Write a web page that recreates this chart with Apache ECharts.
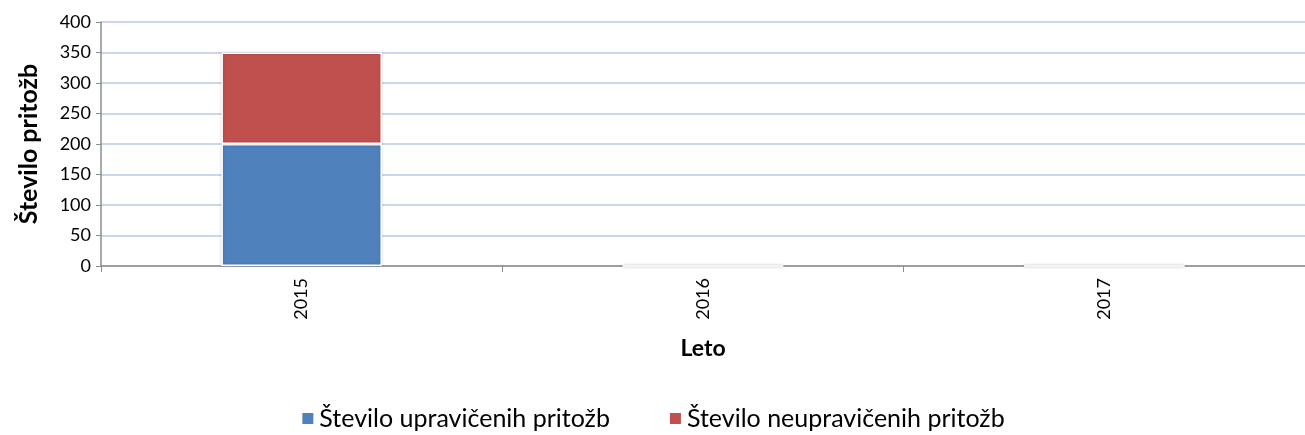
<!DOCTYPE html>
<html>
<head>
<meta charset="utf-8">
<script src="https://cdn.jsdelivr.net/npm/echarts@6/dist/echarts.min.js"></script>
<style>
  html, body { margin: 0; padding: 0; background: #fff; }
  #container { width: 1305px; height: 435px; }
</style>
</head>
<body>
<div id="container"></div>
<script>
var leta = ['2015', '2016', '2017'];
var upraviceni = [200, 0, 0];
var neupraviceni = [150, 0, 0];
var yTicks = [0, 50, 100, 150, 200, 250, 300, 350, 400];

var font = 'Lato, "Open Sans", sans-serif';
var chart = echarts.init(document.getElementById('container'));

var barStyle = function (color) {
    return {
        color: color,
        borderColor: '#ffffff',
        borderWidth: 1.5,
        shadowBlur: 3,
        shadowColor: 'rgba(0,0,0,0.18)'
    };
};

var option = {
    animation: false,
    textStyle: { fontFamily: font },
    grid: { left: 101, right: 0, top: 22, bottom: 169 },
    legend: {
        bottom: -1,
        left: 'center',
        itemWidth: 13,
        itemHeight: 13,
        itemGap: 58,
        icon: 'rect',
        textStyle: { fontSize: 25, color: '#000', fontFamily: font },
        data: ['Število upravičenih pritožb', 'Število neupravičenih pritožb']
    },
    xAxis: {
        type: 'category',
        data: leta,
        name: 'Leto',
        nameLocation: 'middle',
        nameGap: 71,
        nameTextStyle: { fontSize: 23, fontWeight: 'bold', color: '#000', fontFamily: font },
        axisLine: { lineStyle: { color: '#8c8c8c', width: 1.5 } },
        axisTick: { show: true, length: 6, lineStyle: { color: '#8c8c8c' } },
        axisLabel: { rotate: 90, fontSize: 18, color: '#000', margin: 12, fontFamily: font }
    },
    yAxis: {
        type: 'value',
        min: 0,
        max: 400,
        interval: 50,
        name: 'Število pritožb',
        nameLocation: 'middle',
        nameGap: 60,
        nameTextStyle: { fontSize: 25, fontWeight: 'bold', color: '#000', fontFamily: font },
        axisLine: { show: true, lineStyle: { color: '#8c8c8c', width: 1.5 } },
        axisTick: { show: true, length: 5, lineStyle: { color: '#8c8c8c' } },
        axisLabel: {
            fontSize: 18, color: '#000', margin: 10, fontFamily: font,
            formatter: function (v) { return yTicks.indexOf(v) >= 0 ? String(v) : ''; }
        },
        splitLine: { lineStyle: { color: '#b9c8e8', width: 1.5 } }
    },
    series: [
        {
            name: 'Število upravičenih pritožb',
            type: 'bar',
            stack: 'skupaj',
            data: upraviceni,
            barCategoryGap: '60%',
            itemStyle: barStyle('#4f81bd')
        },
        {
            name: 'Število neupravičenih pritožb',
            type: 'bar',
            stack: 'skupaj',
            data: neupraviceni,
            barCategoryGap: '60%',
            itemStyle: barStyle('#c0504d')
        }
    ]
};

chart.setOption(option);
</script>
</body>
</html>
